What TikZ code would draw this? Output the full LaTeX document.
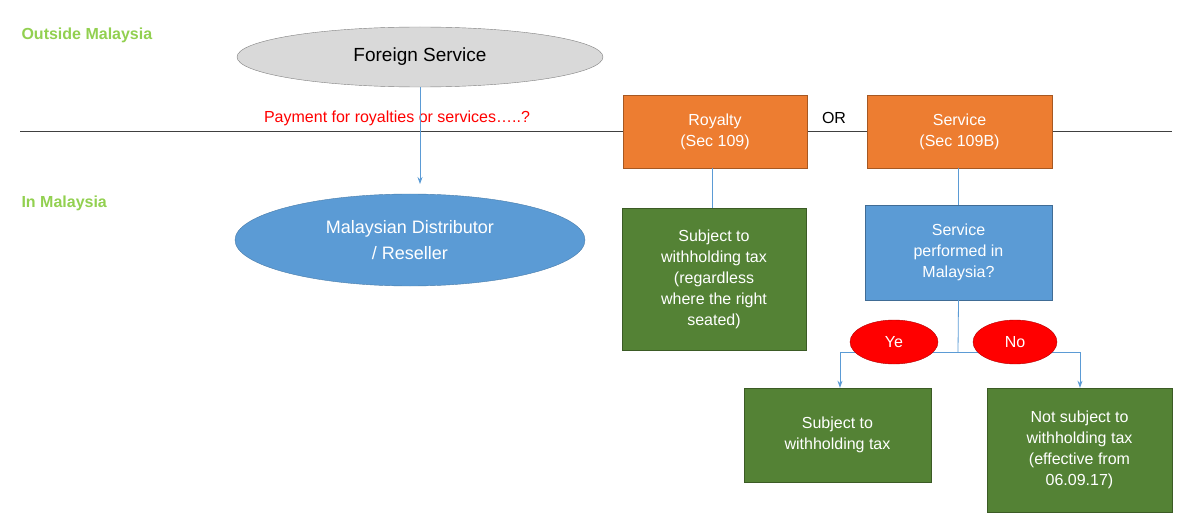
\documentclass[tikz,border=0pt]{standalone}
\usepackage{fontspec}
\setmainfont{Liberation Sans}
\usetikzlibrary{shapes.geometric,arrows.meta}
\definecolor{lg}{HTML}{92D050}
\definecolor{bl}{HTML}{5B9BD5}
\definecolor{org}{HTML}{ED7D31}
\definecolor{gr}{HTML}{548235}
\definecolor{rd}{HTML}{FF0000}
\begin{document}
\begin{tikzpicture}[x=1pt,y=-1pt,
  lab/.style={text=lg,font=\bfseries\fontsize{16}{19}\selectfont,anchor=west},
  box/.style={draw=#1!70!black,fill=#1,text=white,align=center,inner sep=2pt,font=\fontsize{16}{21}\selectfont},
  conn/.style={draw=bl,line width=0.8pt},
  arr/.style={conn,-{Stealth[length=7pt,width=5pt]}}]
\useasboundingbox (0,0) rectangle (1200,532);
\node[lab] (om) at (18,35) {Outside Malaysia};
\node[lab] (im) at (18,203) {In Malaysia};
\draw[black!75,line width=0.8pt] (20,131) coordinate (l1) -- (1172,131) coordinate (l2);
\node[ellipse,draw=black!50,fill=black!15,minimum width=366,minimum height=60,font=\fontsize{19}{22}\selectfont] (fs) at (420,57) {Foreign Service};
\node[text=rd,font=\fontsize{16}{19}\selectfont] (pay) at (397,118) {Payment for royalties or services…..?};
\node[ellipse,draw=bl!80!black,fill=bl,text=white,align=center,minimum width=350,minimum height=92,font=\fontsize{18}{26}\selectfont] (md) at (410,240) {Malaysian Distributor\\/ Reseller};
\draw[arr] (fs) -- (420,184);
\node[box=org,minimum width=184,minimum height=73] (roy) at (715,131.5) {Royalty\\(Sec 109)};
\node[font=\fontsize{16}{19}\selectfont] (or) at (834,118) {OR};
\node[box=org,minimum width=185,minimum height=73] (ser) at (959.5,131.5) {Service\\(Sec 109B)};
\node[box=gr,minimum width=184,minimum height=142] (g1) at (714,279) {Subject to\\withholding tax\\(regardless\\where the right\\seated)};
\node[box=bl,minimum width=187,minimum height=95] (sp) at (958.5,252.5) {Service\\performed in\\Malaysia?};
\draw[conn] (712,168) -- (712,208);
\draw[conn] (958,168) -- (958,205);
\coordinate (j) at (958,352);
\draw[conn] (sp.south) -- (j);
\node[box=gr,minimum width=187,minimum height=94] (g2) at (837.5,435) {Subject to\\withholding tax};
\node[box=gr,minimum width=185,minimum height=124] (g3) at (1079.5,450) {Not subject to\\withholding tax\\(effective from\\06.09.17)};
\draw[arr] (j) -| (g2.north-|840,0);
\draw[arr] (j) -| (g3.north-|1080,0);
\node[ellipse,draw=rd!70!black,fill=rd,text=white,minimum width=88,minimum height=44,font=\fontsize{16}{19}\selectfont] (ye) at (894,342) {Ye};
\node[ellipse,draw=rd!70!black,fill=rd,text=white,minimum width=84,minimum height=44,font=\fontsize{16}{19}\selectfont] (no) at (1015,342) {No};
\end{tikzpicture}
\end{document}
